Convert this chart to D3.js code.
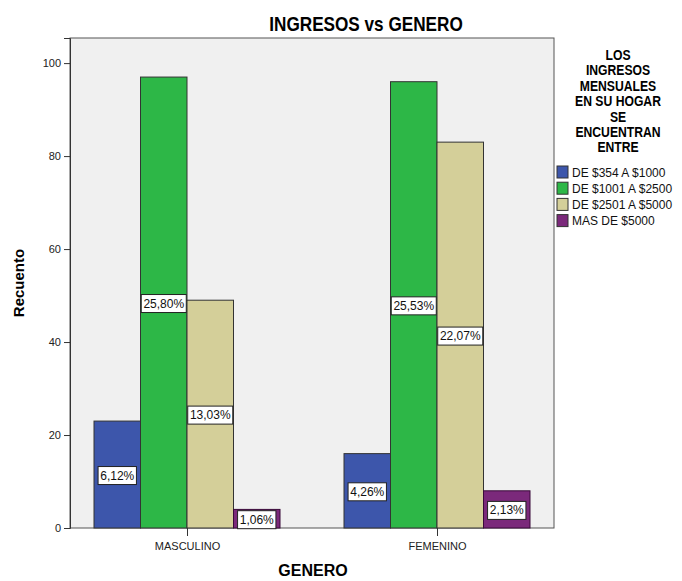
<!DOCTYPE html>
<html><head><meta charset="utf-8">
<script src="https://cdn.jsdelivr.net/npm/d3@7"></script>
<style>body{margin:0;background:#fff}</style>
</head><body>
<script>
const categories = ["MASCULINO", "FEMENINO"];
const seriesNames = ["DE $354 A $1000", "DE $1001 A $2500", "DE $2501 A $5000", "MAS DE $5000"];
const masculino = [23, 97, 49, 4];
const femenino = [16, 96, 83, 8];
const percentLabels = [["6,12%", "25,80%", "13,03%", "1,06%"], ["4,26%", "25,53%", "22,07%", "2,13%"]];
const yTicks = [0, 20, 40, 60, 80, 100];
const colors = ["#3d56ab", "#2db747", "#d4cf99", "#7b297b"];
const legendTitle = ["LOS", "INGRESOS", "MENSUALES", "EN SU HOGAR", "SE", "ENCUENTRAN", "ENTRE"];

const values = [masculino, femenino];
const W = 682, H = 581;
const svg = d3.select("body").append("svg").attr("width", W).attr("height", H);
const fontR = "'Liberation Sans',Arial,sans-serif";

const L = 70, R = 554, T = 38, B = 528;
const y = d3.scaleLinear().domain([0, 105.4]).range([B, T]);
const x = d3.scalePoint().domain(categories).range([L, R]).padding(0.468);
const bw = 46.5;
const xs = d3.scaleBand().domain(d3.range(4)).range([-2 * bw, 2 * bw]).padding(0);

svg.append("rect").attr("x", L).attr("y", T).attr("width", R - L).attr("height", B - T)
  .attr("fill", "#f0f0f0").attr("stroke", "#555").attr("stroke-width", 1);

// bars
categories.forEach((c, ci) => {
  const g = svg.append("g").attr("transform", `translate(${x(c)},0)`);
  values[ci].forEach((v, si) => {
    g.append("rect").attr("x", xs(si)).attr("y", y(v)).attr("width", xs.bandwidth())
      .attr("height", y(0) - y(v)).attr("fill", colors[si])
      .attr("stroke", si === 3 ? "#3a0a3a" : "#333").attr("stroke-width", 1);
  });
  values[ci].forEach((v, si) => {
    const cx = xs(si) + xs.bandwidth() / 2;
    const cy = (y(v) + y(0)) / 2 + 1;
    const t = g.append("text").attr("x", cx).attr("y", cy).attr("text-anchor", "middle")
      .attr("dominant-baseline", "central").attr("font-family", fontR).attr("font-size", 12)
      .attr("fill", "#111").text(percentLabels[ci][si]);
    const bb = t.node().getBBox();
    g.insert("rect", "text").attr("x", cx - bb.width / 2 - 2).attr("y", cy - 9)
      .attr("width", bb.width + 4).attr("height", 18).attr("fill", "#fff")
      .attr("stroke", "#222").attr("stroke-width", 1);
  });
});

// y axis
const ya = svg.append("g").attr("transform", `translate(${L},0)`)
  .call(d3.axisLeft(y).tickValues(yTicks).tickSize(6).tickFormat(d3.format("d")));
ya.select(".domain").attr("stroke", "#333");
ya.selectAll("line").attr("stroke", "#333");
ya.selectAll("text").attr("font-family", fontR).attr("font-size", 11).attr("fill", "#222");

// x axis ticks
const xa = svg.append("g").attr("transform", `translate(0,${B})`)
  .call(d3.axisBottom(x).tickSize(8).tickPadding(6));
xa.select(".domain").remove();
xa.selectAll("line").attr("stroke", "#333");
xa.selectAll("text").attr("font-family", fontR).attr("font-size", 11).attr("fill", "#222");

// titles (narrowed to mimic condensed font)
svg.append("text").attr("transform", "translate(366,31) scale(0.88,1)").attr("text-anchor", "middle")
  .attr("font-family", fontR).attr("font-weight", "bold").attr("font-size", 19.5).text("INGRESOS vs GENERO");
svg.append("text").attr("x", 313).attr("y", 576).attr("text-anchor", "middle")
  .attr("font-family", fontR).attr("font-weight", "bold").attr("font-size", 16).text("GENERO");
svg.append("text").attr("transform", "translate(24,283) rotate(-90)").attr("text-anchor", "middle")
  .attr("font-family", fontR).attr("font-weight", "bold").attr("font-size", 15).text("Recuento");

// legend
legendTitle.forEach((l, i) => {
  svg.append("text").attr("transform", `translate(618,${60 + i * 15.4}) scale(0.84,1)`).attr("text-anchor", "middle")
    .attr("font-family", fontR).attr("font-weight", "bold").attr("font-size", 14.5).text(l);
});
seriesNames.forEach((s, i) => {
  const yy = 166 + i * 16.2;
  svg.append("rect").attr("x", 557).attr("y", yy).attr("width", 11).attr("height", 12)
    .attr("fill", colors[i]).attr("stroke", "#333");
  svg.append("text").attr("x", 572).attr("y", yy + 10.5).attr("font-family", fontR)
    .attr("font-size", 12).attr("fill", "#111").text(s);
});
</script>
</body></html>
